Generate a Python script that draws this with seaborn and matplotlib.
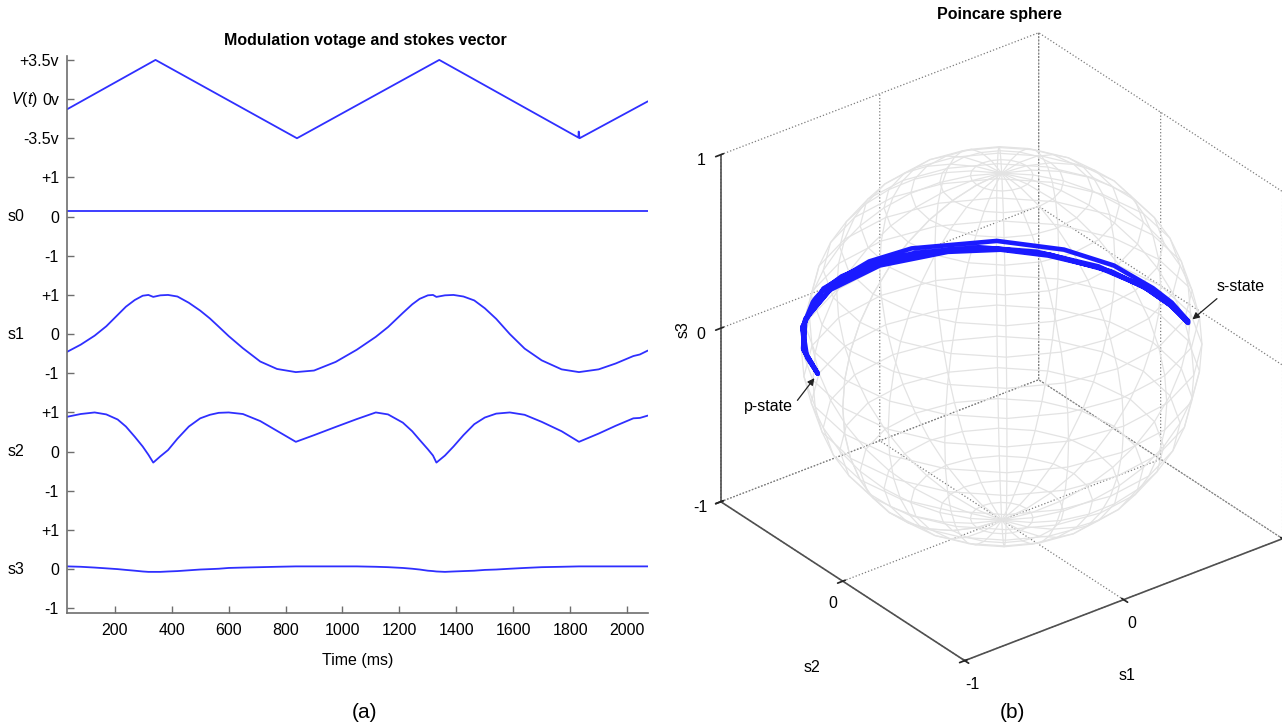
import numpy as np
import matplotlib
matplotlib.use("Agg")
import matplotlib.pyplot as plt
import matplotlib.transforms as mtransforms
from mpl_toolkits.mplot3d import proj3d
import seaborn as sns

# modulation voltage V(t), volts
V_T = [33, 343, 840, 1340, 1829, 1830, 1833, 2073]
V_VAL = [-0.9, 3.5, -3.5, 3.5, -3.44, -2.9, -3.5, -0.2]

# s0 (normalised, flat)
S0_T = [33, 2073]
S0_VAL = [0.15, 0.15]

# s1, s2, s3 share one time base (ms)
STOKES_T = [33, 80, 129, 170, 210, 239, 270, 298, 318, 335, 360, 387, 420, 460,
            500, 534, 565, 600, 650, 711, 770, 836, 900, 976, 1050, 1117, 1160,
            1212, 1245, 1271, 1300, 1318, 1330, 1360, 1390, 1425, 1463, 1500,
            1540, 1588, 1640, 1700, 1770, 1831, 1900, 1960, 2022, 2045, 2073]
S1_VAL = [-0.45, -0.27, -0.04, 0.2, 0.49, 0.7, 0.87, 0.98, 1.0, 0.95, 0.99, 1.0,
          0.96, 0.8, 0.6, 0.4, 0.19, -0.05, -0.36, -0.7, -0.89, -0.97, -0.93,
          -0.71, -0.4, -0.07, 0.18, 0.54, 0.76, 0.9, 0.99, 1.0, 0.95, 0.99, 1.0,
          0.96, 0.86, 0.66, 0.39, 0.0, -0.37, -0.67, -0.9, -0.97, -0.9, -0.75,
          -0.56, -0.52, -0.42]
S2_VAL = [0.89, 0.96, 1.0, 0.95, 0.82, 0.64, 0.38, 0.13, -0.08, -0.28, -0.12,
          0.04, 0.33, 0.64, 0.85, 0.94, 0.99, 1.0, 0.96, 0.78, 0.53, 0.25, 0.42,
          0.63, 0.83, 1.0, 0.95, 0.74, 0.52, 0.3, 0.06, -0.1, -0.28, -0.1, 0.13,
          0.42, 0.7, 0.87, 0.97, 1.0, 0.94, 0.76, 0.52, 0.25, 0.46, 0.66, 0.85,
          0.86, 0.92]
S3_VAL = [0.07, 0.06, 0.04, 0.02, 0.0, -0.02, -0.04, -0.06, -0.07, -0.07, -0.07,
          -0.06, -0.05, -0.03, -0.01, 0.0, 0.01, 0.03, 0.04, 0.05, 0.06, 0.07,
          0.07, 0.07, 0.07, 0.06, 0.05, 0.03, 0.01, -0.01, -0.04, -0.05, -0.06,
          -0.07, -0.06, -0.05, -0.04, -0.02, -0.01, 0.01, 0.03, 0.05, 0.06, 0.07,
          0.07, 0.07, 0.07, 0.07, 0.07]

ROW_NAMES = ["$V$($t$)", "s0", "s1", "s2", "s3"]
YTICK_LABELS = ["+3.5v", "0v", "-3.5v"] + ["+1", "0", "-1"] * 4
XTICKS = list(range(200, 2001, 200))

W, H = 1282, 727
BLUE = "#2f2fff"
AXC = "#6e6e6e"
FS = 11.5

sns.set_theme(style="ticks")
plt.rcParams["font.family"] = ["Liberation Sans", "DejaVu Sans"]
plt.rcParams["text.color"] = "black"
plt.rcParams["axes.labelcolor"] = "black"
plt.rcParams["axes.unicode_minus"] = False
plt.rcParams["mathtext.fontset"] = "custom"
plt.rcParams["mathtext.it"] = "Liberation Sans:italic"
plt.rcParams["mathtext.rm"] = "Liberation Sans"
plt.rcParams["grid.linestyle"] = ":"
plt.rcParams["grid.color"] = "#7c7c7c"
plt.rcParams["grid.linewidth"] = 0.9

fig = plt.figure(figsize=(W / 100, H / 100), dpi=100)

# ---------------- (a) stacked traces ----------------
ax = fig.add_axes([67.3 / W, 1 - 613 / H, (648 - 67.3) / W, (613 - 56) / H])
offsets = [12, 9, 6, 3, 0]
traces = [
    (V_T, np.array(V_VAL) / 3.5),
    (S0_T, np.array(S0_VAL)),
    (STOKES_T, np.array(S1_VAL)),
    (STOKES_T, np.array(S2_VAL)),
    (STOKES_T, np.array(S3_VAL)),
]
for (t, v), off in zip(traces, offsets):
    sns.lineplot(x=t, y=v + off, ax=ax, color=BLUE, linewidth=1.3,
                 estimator=None, sort=False)

ax.set_xlim(33, 2073.5)
ax.set_ylim(-1.12, 13.1)
ax.set_xticks(XTICKS)
ax.set_xticklabels([str(x) for x in XTICKS])
ytick_pos = [13, 12, 11] + [o + d for o in offsets[1:] for d in (1, 0, -1)]
ax.set_yticks(ytick_pos)
ax.set_yticklabels(YTICK_LABELS)
ax.tick_params(direction="in", length=5, width=1, color=AXC, labelsize=FS,
               labelcolor="black")
ax.tick_params(axis="y", pad=6)
ax.tick_params(axis="x", pad=7)
sns.despine(ax=ax)
for sp in ("left", "bottom"):
    ax.spines[sp].set_color(AXC)
    ax.spines[sp].set_linewidth(1.2)
ax.set_xlabel("Time (ms)", fontsize=FS, labelpad=11)
ax.set_ylabel("")

trans = mtransforms.blended_transform_factory(fig.transFigure, ax.transData)
ax.text(38 / W, offsets[0], ROW_NAMES[0], transform=trans, ha="right",
        va="center", fontsize=FS)
for name, off in zip(ROW_NAMES[1:], offsets[1:]):
    ax.text(8 / W, off, name, transform=trans, ha="left", va="center",
            fontsize=FS)

# ---------------- (b) Poincare sphere ----------------
ax3 = fig.add_axes([0.52, 0.0, 0.5, 0.9], projection="3d", computed_zorder=False)
ax3.set_proj_type("ortho")
ax3.view_init(elev=30, azim=-127.5)
ax3.set_box_aspect((1, 1, 1))
ax3.set_xlim(-1, 1)
ax3.set_ylim(-1, 1)
ax3.set_zlim(-1, 1)
ax3.patch.set_visible(False)

th = np.linspace(-np.pi, np.pi, 21)
ph = np.linspace(-np.pi / 2, np.pi / 2, 21)
TH, PH = np.meshgrid(th, ph)
ax3.plot_wireframe(np.cos(PH) * np.cos(TH), np.cos(PH) * np.sin(TH), np.sin(PH),
                   color="#e3e3e3", linewidth=0.9, zorder=1)

svec = np.vstack([S1_VAL, S2_VAL, S3_VAL]).astype(float)
svec = svec / np.linalg.norm(svec, axis=0)
ax3.plot(svec[0], svec[1], svec[2], color="#1a1aff", linewidth=3.3, zorder=5,
         solid_capstyle="butt", solid_joinstyle="round")

for axis in (ax3.xaxis, ax3.yaxis, ax3.zaxis):
    axis.set_pane_color((1, 1, 1, 0))
    axis.pane.set_edgecolor((1, 1, 1, 0))
    axis.line.set_color("#505050")
    axis.line.set_linewidth(1.2)
    axis._axinfo["grid"].update(color="#7c7c7c", linestyle=":", linewidth=0.9)
    axis._axinfo["tick"]["color"] = "#505050"

ax3.set_xticks([-1, 0, 1])
ax3.set_xticklabels(["-1", "0", ""])
ax3.set_yticks([-1, 0, 1])
ax3.set_yticklabels(["", "0", ""])
ax3.set_zticks([-1, 0, 1])
ax3.set_zticklabels(["-1", "0", "1"])
ax3.tick_params(labelsize=FS, labelcolor="black")
ax3.tick_params(axis="x", pad=0)
ax3.tick_params(axis="y", pad=0)
ax3.tick_params(axis="z", pad=1)
ax3.set_xlabel("")
ax3.set_ylabel("")
ax3.set_zlabel("")


def to_px(axx, pts):
    M = axx.get_proj()
    p = np.array(pts, dtype=float)
    xs, ys, _ = proj3d.proj_transform(p[:, 0], p[:, 1], p[:, 2], M)
    return axx.transData.transform(np.column_stack([xs, ys]))


# box corners (-1,1,-1) and (1,1,1) -> where they sit in the reference
corners = [(-1, 1, -1), (1, 1, 1)]
targets = np.array([(720.8, H - 501.7), (1039.5, H - 33.3)])
for _ in range(3):
    fig.canvas.draw()
    got = to_px(ax3, corners)
    s = np.linalg.norm(targets[1] - targets[0]) / np.linalg.norm(got[1] - got[0])
    bb = ax3.get_position().transformed(fig.transFigure)
    c = np.array([(bb.x0 + bb.x1) / 2, (bb.y0 + bb.y1) / 2])
    w = bb.width * s
    c_new = targets[0] - s * (got[0] - c)
    ax3.set_position([(c_new[0] - w / 2) / W, (c_new[1] - w / 2) / H, w / W, w / H])

fig.canvas.draw()
phi = np.arctan2(svec[1], svec[0])
i_p = int(np.argmax(phi))
i_s = int(np.argmin(phi))
M = ax3.get_proj()
xp, yp, _ = proj3d.proj_transform(svec[0], svec[1], svec[2], M)
arrow = dict(arrowstyle="-|>", color="#222222", lw=0.9, mutation_scale=10,
             shrinkA=1, shrinkB=4)
ax3.annotate("p-state", xy=(xp[i_p], yp[i_p]), xytext=(-49, -33),
             textcoords="offset pixels", ha="center", va="center", fontsize=FS,
             arrowprops=dict(arrow, relpos=(1.02, 0.65)))
ax3.annotate("s-state", xy=(xp[i_s], yp[i_s]), xytext=(52, 36),
             textcoords="offset pixels", ha="center", va="center", fontsize=FS,
             arrowprops=dict(arrow, relpos=(0.12, 0)))

# axis names of the sphere box
fig.text(1127 / W, 1 - 675 / H, "s1", ha="center", va="center", fontsize=FS)
fig.text(812 / W, 1 - 667 / H, "s2", ha="center", va="center", fontsize=FS)
fig.text(683 / W, 1 - 330 / H, "s3", ha="center", va="center", fontsize=FS,
         rotation=90)

fig.text(365 / W, 1 - 40 / H, "Modulation votage and stokes vector",
         ha="center", va="center", fontsize=FS, fontweight="bold")
fig.text(999.5 / W, 1 - 15 / H, "Poincare sphere", ha="center", va="center",
         fontsize=FS, fontweight="bold")
fig.text(364 / W, 1 - 713 / H, "(a)", ha="center", va="center", fontsize=15)
fig.text(1012 / W, 1 - 713 / H, "(b)", ha="center", va="center", fontsize=15)

fig.savefig("out.png", dpi=100)
